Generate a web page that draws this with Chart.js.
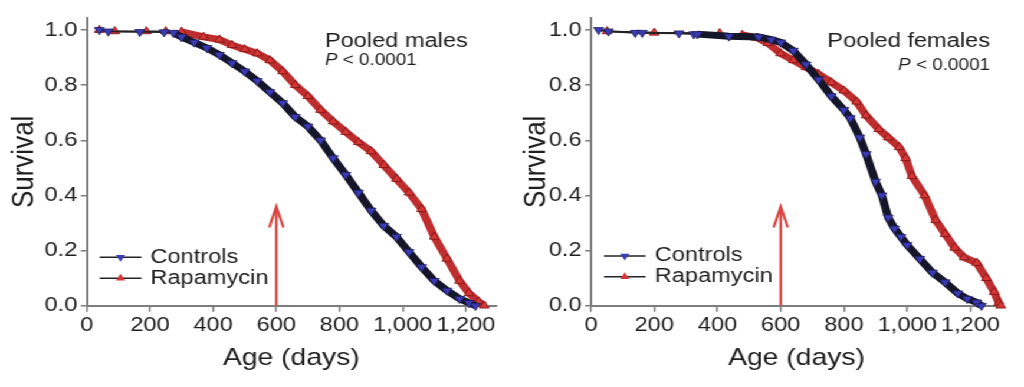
<!DOCTYPE html>
<html><head><meta charset="utf-8">
<script src="https://cdn.jsdelivr.net/npm/chart.js@4.4.1/dist/chart.umd.min.js"></script>
<style>
html,body{margin:0;padding:0;background:#fff;overflow:hidden;}
#wrap{width:868px;height:387px;transform:scaleX(1.1797);transform-origin:0 0;display:flex;}
canvas{display:block;}
</style></head><body>
<div id="wrap"><canvas id="c1" width="434" height="387"></canvas><canvas id="c2" width="434" height="387"></canvas></div>
<script>
// ---------- data ----------
const SERIES_LABELS = ['Controls', 'Rapamycin'];
const X_TICKS = [0, 200, 400, 600, 800, 1000, 1200];
const Y_TICKS = [0, 0.2, 0.4, 0.6, 0.8, 1.0];

const MALE_CTRL_AGE  = [40, 68, 168, 245, 275, 300, 340, 380, 420, 460, 500, 540, 580, 620, 660, 700, 740, 780, 820, 860, 900, 940, 980, 1020, 1060, 1100, 1140, 1180, 1210, 1230];
const MALE_CTRL_SURV = [1.0, 0.995, 0.993, 0.992, 0.99, 0.975, 0.955, 0.935, 0.91, 0.88, 0.85, 0.815, 0.775, 0.735, 0.685, 0.65, 0.60, 0.535, 0.475, 0.41, 0.345, 0.29, 0.25, 0.195, 0.14, 0.09, 0.055, 0.025, 0.01, 0.0];

const MALE_RAPA_AGE  = [40, 89, 189, 250, 300, 370, 420, 460, 500, 540, 580, 620, 660, 700, 740, 780, 820, 860, 900, 940, 980, 1020, 1060, 1100, 1140, 1180, 1210, 1240, 1258];
const MALE_RAPA_SURV = [1.0, 0.995, 0.995, 0.995, 0.993, 0.975, 0.965, 0.945, 0.93, 0.915, 0.89, 0.85, 0.80, 0.76, 0.71, 0.668, 0.63, 0.593, 0.56, 0.51, 0.46, 0.41, 0.35, 0.25, 0.17, 0.09, 0.045, 0.015, 0.0];

const FEM_CTRL_AGE  = [24, 55, 140, 162, 278, 325, 336, 436, 530, 570, 600, 640, 680, 720, 760, 800, 820, 850, 870, 900, 920, 940, 960, 980, 1000, 1040, 1080, 1120, 1160, 1190, 1220, 1235];
const FEM_CTRL_SURV = [1.0, 0.995, 0.99, 0.99, 0.988, 0.985, 0.985, 0.977, 0.975, 0.965, 0.955, 0.925, 0.875, 0.82, 0.76, 0.71, 0.68, 0.61, 0.55, 0.45, 0.40, 0.32, 0.28, 0.25, 0.22, 0.17, 0.12, 0.085, 0.045, 0.025, 0.012, 0.0];

const FEM_RAPA_AGE  = [51, 200, 407, 478, 525, 560, 600, 640, 680, 720, 760, 800, 840, 870, 910, 940, 975, 995, 1015, 1055, 1090, 1120, 1150, 1180, 1220, 1250, 1275, 1290, 1296];
const FEM_RAPA_SURV = [0.995, 0.99, 0.988, 0.982, 0.972, 0.952, 0.915, 0.89, 0.865, 0.84, 0.81, 0.78, 0.74, 0.69, 0.64, 0.61, 0.575, 0.535, 0.47, 0.40, 0.31, 0.26, 0.21, 0.175, 0.155, 0.10, 0.05, 0.01, 0.0];

const PANEL_TITLES = ['Pooled males', 'Pooled females'];
const P_LABEL = ['P', ' < 0.0001'];
const ARROW_AGE = 600, ARROW_TOP = 0.36;

// ---------- style ----------
const FONT = '"Liberation Sans", Arial, Helvetica, sans-serif';
const TXT = '#1e1e1e';
const AXIS = '#7d7d7d';
const BLUE = '#3b3bb8', RED = '#d83636';
const DENSE_CTRL = '#16162a', DENSE_RAPA = '#be2e2e';

function zip(a, s) { return a.map((v, i) => ({ x: v, y: s[i] })); }

function makeDs(label, ages, surv, isCtrl) {
  const dense = isCtrl ? DENSE_CTRL : DENSE_RAPA;
  return {
    label, data: zip(ages, surv),
    borderColor: '#222', borderWidth: 1.8,
    pointStyle: 'triangle', rotation: isCtrl ? 180 : 0,
    pointRadius: 4.8, pointBackgroundColor: isCtrl ? BLUE : RED,
    pointBorderColor: isCtrl ? '#20205a' : '#7a1414', pointBorderWidth: 0.8,
    tension: 0, clip: false,
    segment: {
      borderWidth: c => (c.p1.parsed.y < 0.98 ? 7 : 1.8),
      borderColor: c => (c.p1.parsed.y < 0.98 ? dense : '#222')
    }
  };
}

const overlay = {
  id: 'overlay',
  afterDatasetsDraw(chart, args, o) {
    const ctx = chart.ctx, ca = chart.chartArea;
    const xs = chart.scales.x, ys = chart.scales.y;
    ctx.save();
    // arrow
    const ax = xs.getPixelForValue(ARROW_AGE), ay0 = ys.getPixelForValue(0), ay1 = ys.getPixelForValue(ARROW_TOP);
    ctx.strokeStyle = '#d9443f'; ctx.lineWidth = 2.2; ctx.lineCap = 'butt';
    ctx.beginPath(); ctx.moveTo(ax, ay0); ctx.lineTo(ax, ay1 + 1); ctx.stroke();
    ctx.lineJoin = 'miter';
    ctx.beginPath(); ctx.moveTo(ax - 6, ay1 + 21); ctx.lineTo(ax, ay1); ctx.lineTo(ax + 6, ay1 + 21); ctx.stroke();
    // legend
    ctx.font = '20px ' + FONT; ctx.fillStyle = TXT; ctx.textBaseline = 'alphabetic'; ctx.textAlign = 'left';
    chart.data.datasets.forEach((ds, i) => {
      const y = o.legendY[i];
      const x1 = ca.left + 11, x2 = ca.left + 46.3;
      ctx.strokeStyle = '#222'; ctx.lineWidth = 1.6;
      ctx.beginPath(); ctx.moveTo(x1, y); ctx.lineTo(x2, y); ctx.stroke();
      const cx = (x1 + x2) / 2, r = 4.5;
      ctx.beginPath();
      if (i === 0) { ctx.moveTo(cx - r * 0.87, y - r * 0.5); ctx.lineTo(cx + r * 0.87, y - r * 0.5); ctx.lineTo(cx, y + r); }
      else { ctx.moveTo(cx - r * 0.87, y + r * 0.5); ctx.lineTo(cx + r * 0.87, y + r * 0.5); ctx.lineTo(cx, y - r); }
      ctx.closePath(); ctx.fillStyle = ds.pointBackgroundColor; ctx.fill();
      ctx.fillStyle = TXT;
      ctx.fillText(ds.label, ca.left + 54, y + 5.2);
    });
    // panel title + P value
    ctx.font = '20px ' + FONT;
    if (o.align === 'left') {
      ctx.textAlign = 'left';
      ctx.fillText(o.title, ca.left + o.textDx, o.titleY);
      ctx.font = 'italic 16px ' + FONT;
      ctx.fillText(P_LABEL[0], ca.left + o.textDx, o.pY);
      const w = ctx.measureText(P_LABEL[0]).width;
      ctx.font = '16px ' + FONT;
      ctx.fillText(P_LABEL[1], ca.left + o.textDx + w, o.pY);
    } else {
      ctx.textAlign = 'right';
      const rx = ca.right - o.textDx;
      ctx.fillText(o.title, rx, o.titleY);
      ctx.font = '16px ' + FONT;
      ctx.fillText(P_LABEL[1], rx, o.pY);
      const w = ctx.measureText(P_LABEL[1]).width;
      ctx.font = 'italic 16px ' + FONT;
      ctx.fillText(P_LABEL[0], rx - w, o.pY);
    }
    ctx.restore();
  }
};

function makeChart(id, ctrlAge, ctrlSurv, rapaAge, rapaSurv, cfg) {
  return new Chart(document.getElementById(id), {
    type: 'line',
    data: { datasets: [
      makeDs(SERIES_LABELS[0], ctrlAge, ctrlSurv, true),
      makeDs(SERIES_LABELS[1], rapaAge, rapaSurv, false)
    ]},
    plugins: [overlay],
    options: {
      responsive: false, animation: false, devicePixelRatio: 1,
      layout: { padding: { top: 18, right: cfg.padRight, bottom: 0, left: 0 } },
      plugins: { legend: { display: false }, tooltip: { enabled: false }, overlay: cfg.overlay },
      scales: {
        x: {
          type: 'linear', min: 0, max: cfg.xMax,
          afterFit: s => { s.height = 81.3; },
          afterBuildTicks: s => { s.ticks = X_TICKS.map(v => ({ value: v })); },
          grid: { drawOnChartArea: false, drawTicks: true, tickLength: 6, color: AXIS, lineWidth: 1.5 },
          border: { display: true, color: AXIS, width: 2 },
          ticks: { color: TXT, padding: 2, font: { family: FONT, size: 20 }, maxRotation: 0, autoSkip: false,
                   callback: v => v.toLocaleString('en-US') },
          title: { display: true, text: 'Age (days)', color: TXT, font: { family: FONT, size: 24 }, padding: { top: 0, bottom: 14 } }
        },
        y: {
          type: 'linear', min: 0, max: 1.0435,
          afterFit: s => { s.width = cfg.yWidth; },
          afterBuildTicks: s => { s.ticks = Y_TICKS.map(v => ({ value: v })); },
          grid: { drawOnChartArea: false, drawTicks: true, tickLength: 5, color: AXIS, lineWidth: 1.5 },
          border: { display: true, color: AXIS, width: 2 },
          ticks: { color: TXT, padding: 3, font: { family: FONT, size: 20 }, callback: v => v.toFixed(1) },
          title: { display: true, text: 'Survival', color: TXT, font: { family: FONT, size: 26 }, padding: { top: 5, bottom: 0 } }
        }
      }
    }
  });
}

makeChart('c1', MALE_CTRL_AGE, MALE_CTRL_SURV, MALE_RAPA_AGE, MALE_RAPA_SURV, {
  xMax: 1295, padRight: 13.6, yWidth: 73.5,
  overlay: { align: 'left', title: PANEL_TITLES[0], textDx: 201.9, titleY: 47.3, pY: 65, legendY: [257.3, 278.3] }
});
makeChart('c2', FEM_CTRL_AGE, FEM_CTRL_SURV, FEM_RAPA_AGE, FEM_RAPA_SURV, {
  xMax: 1300, padRight: 18.6, yWidth: 67.0,
  overlay: { align: 'right', title: PANEL_TITLES[1], textDx: 10.2, titleY: 47.3, pY: 70, legendY: [256, 276.7] }
});
</script>
</body></html>
